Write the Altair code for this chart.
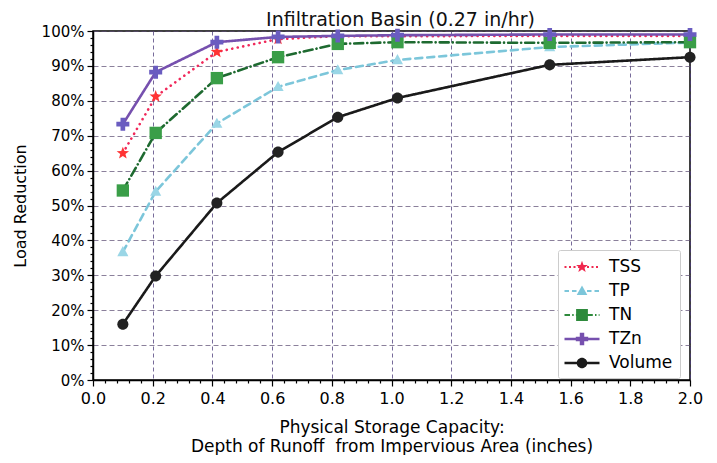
import math
import altair as alt
import pandas as pd

# ---- data ----
series = ["TSS", "TP", "TN", "TZn", "Volume"]
depth = [0.1, 0.21, 0.415, 0.62, 0.82, 1.02, 1.53, 2.0]
tss = [65.0, 81.2, 94.0, 97.7, 98.5, 98.5, 98.6, 98.6]
tp = [36.7, 54.0, 73.5, 84.0, 88.8, 91.7, 95.4, 96.7]
tn = [54.3, 70.8, 86.5, 92.5, 96.3, 96.8, 96.6, 96.8]
tzn = [73.3, 88.2, 96.8, 98.3, 98.6, 98.8, 99.0, 99.0]
volume = [16.0, 29.8, 50.7, 65.3, 75.3, 80.8, 90.3, 92.5]

values = {"TSS": tss, "TP": tp, "TN": tn, "TZn": tzn, "Volume": volume}
rows = []
for s in series:
    for x, y in zip(depth, values[s]):
        rows.append({"series": s, "depth": x, "reduction": y})
df = pd.DataFrame(rows)

# ---- styling ----
line_colors = ["#f0285a", "#7cc6da", "#1e6a30", "#7650ae", "#1a1a1a"]
marker_colors = ["#ff3434", "#9ad6e6", "#3a9e48", "#6a5cc0", "#222222"]
legend_colors = ["#f0284e", "#7cc6da", "#2e8a3c", "#7650ae", "#1a1a1a"]
dashes = [[0.1, 5.5], [7, 5], [9, 4, 0.1, 4], [1, 0], [1, 0]]


def poly(pts):
    return "M" + "L".join(f"{x:.3f},{y:.3f}" for x, y in pts) + "Z"


def star(r, cx=0.0):
    pts = []
    for i in range(10):
        a = -math.pi / 2 + i * math.pi / 5
        rr = r if i % 2 == 0 else r * 0.42
        pts.append((cx + rr * math.cos(a), rr * math.sin(a)))
    return poly(pts)


def tri(r, cx=0.0):
    return poly([(cx, -r), (cx + r * 0.95, r * 0.72), (cx - r * 0.95, r * 0.72)])


def square(r, cx=0.0):
    return poly([(cx - r, -r), (cx + r, -r), (cx + r, r), (cx - r, r)])


def plus(r, t, cx=0.0):
    return poly([(cx - t, -r), (cx + t, -r), (cx + t, -t), (cx + r, -t), (cx + r, t),
                 (cx + t, t), (cx + t, r), (cx - t, r), (cx - t, t), (cx - r, t),
                 (cx - r, -t), (cx - t, -t)])


def circle(r, cx=0.0):
    return (f"M{cx - r:.3f},0A{r:.3f},{r:.3f} 0 1 1 {cx + r:.3f},0"
            f"A{r:.3f},{r:.3f} 0 1 1 {cx - r:.3f},0Z")


def rect(x0, x1, h=0.1):
    return poly([(x0, -h), (x1, -h), (x1, h), (x0, h)])


marker_paths = [star(1.0), tri(0.9), square(0.95), plus(1.0, 0.36), circle(0.85)]

HALF = 1.75  # legend line half-length (in symbol units)


def dashed(pattern, start=-HALF, end=HALF):
    out = []
    x = start
    i = 0
    while x < end:
        seg = pattern[i % len(pattern)]
        if i % 2 == 0:
            out.append(rect(x, min(x + seg, end)))
        x += seg
        i += 1
    return "".join(out)


m = 0.62  # legend marker scale
legend_paths = [
    dashed([0.2, 0.25]) + star(1.0 * m),
    dashed([0.45, 0.3]) + tri(0.9 * m),
    dashed([0.55, 0.22, 0.15, 0.22]) + square(0.95 * m),
    rect(-HALF, HALF, 0.13) + plus(1.0 * m, 0.36 * m),
    rect(-HALF, HALF, 0.13) + circle(0.85 * m),
]

FONT = "DejaVu Sans"
XMAJ = "abs(datum.value*5 - round(datum.value*5)) < 0.001"
YMAJ = "datum.value % 10 === 0"
x_enc = alt.X("depth:Q", scale=alt.Scale(domain=[0, 2.0], nice=False, zero=False),
              axis=alt.Axis(
                  values=[round(i * 0.04, 2) for i in range(51)], tickCount=200,
                  labelExpr=f"{XMAJ} ? format(datum.value, '.1f') : ''",
                  tickSize={"condition": {"test": XMAJ, "value": 6}, "value": 3},
                  gridOpacity={"condition": {"test": XMAJ, "value": 0.75}, "value": 0},
                  gridColor="#4a3a78", gridDash=[4, 3], gridWidth=1,
                  labelOverlap=False, labelFlush=False,
                  title=["Physical Storage Capacity:", "Depth of Runoff\u00a0 from Impervious Area (inches)"],
                  titleFontSize=17, titleFontWeight="normal", titlePadding=13, titleLineHeight=19,
                  labelFontSize=16, labelPadding=4,
                  domainColor="black", domainWidth=1.5, tickColor="black", tickWidth=1.2))

y_enc = alt.Y("reduction:Q", scale=alt.Scale(domain=[0, 100], nice=False),
              axis=alt.Axis(
                  values=list(range(0, 101, 2)), tickCount=200,
                  labelExpr=f"{YMAJ} ? datum.value + '%' : ''",
                  tickSize={"condition": {"test": YMAJ, "value": 6}, "value": 3},
                  gridOpacity={"condition": {"test": YMAJ, "value": 0.7}, "value": 0},
                  gridColor="#5a4a70", gridDash=[5, 3], gridWidth=1,
                  labelOverlap=False, labelFlush=False,
                  title="Load Reduction", titleFontSize=16, titleFontWeight="normal",
                  titlePadding=13, labelFontSize=15, labelPadding=3,
                  domainColor="black", domainWidth=1.5, tickColor="black", tickWidth=1.2))

lines = alt.Chart(df).mark_line(strokeWidth=2.6, strokeCap="round").encode(
    x=x_enc, y=y_enc,
    color=alt.Color("series:N", scale=alt.Scale(domain=series, range=line_colors), legend=None),
    strokeDash=alt.StrokeDash("series:N", scale=alt.Scale(domain=series, range=dashes), legend=None),
    detail="series:N",
)

points = alt.Chart(df).mark_point(filled=True, opacity=1, size=169, strokeWidth=0).encode(
    x="depth:Q", y="reduction:Q",
    color=alt.Color("series:N", scale=alt.Scale(domain=series, range=marker_colors), legend=None),
    shape=alt.Shape("series:N", scale=alt.Scale(domain=series, range=marker_paths), legend=None),
)

legend_layer = alt.Chart(df).transform_filter("false").mark_point(
    filled=True, opacity=1, size=400
).encode(
    x="depth:Q", y="reduction:Q",
    color=alt.Color("series:N", scale=alt.Scale(domain=series, range=legend_colors),
                    legend=alt.Legend(title=None, orient="none", legendX=465, legendY=219,
                                      symbolSize=400, symbolOpacity=1, symbolStrokeWidth=0,
                                      labelFontSize=17, labelFont=FONT, labelColor="black",
                                      symbolOffset=7, labelOffset=17, rowPadding=6,
                                      strokeColor="#cccccc", padding=7, fillColor="white",
                                      cornerRadius=2)),
    shape=alt.Shape("series:N", scale=alt.Scale(domain=series, range=legend_paths),
                    legend=alt.Legend(title=None, orient="none", legendX=465, legendY=219)),
)

chart = alt.layer(lines, points, legend_layer).resolve_scale(
    color="independent", shape="independent", strokeDash="independent"
).properties(
    width=597, height=349,
    title=alt.TitleParams("Infiltration Basin (0.27 in/hr)", fontSize=19,
                          fontWeight="normal", font=FONT, color="#111111",
                          offset=-6, dx=9),
    padding={"left": 85, "top": 23, "right": 19, "bottom": 75},
    autosize=alt.AutoSizeParams(type="none"),
).configure(font=FONT).configure_view(
    stroke="black", strokeWidth=1.5
).configure_axis(labelFont=FONT, titleFont=FONT, labelColor="black", titleColor="black")

chart.save("out.html", embed_options={"renderer": "svg", "actions": False})
